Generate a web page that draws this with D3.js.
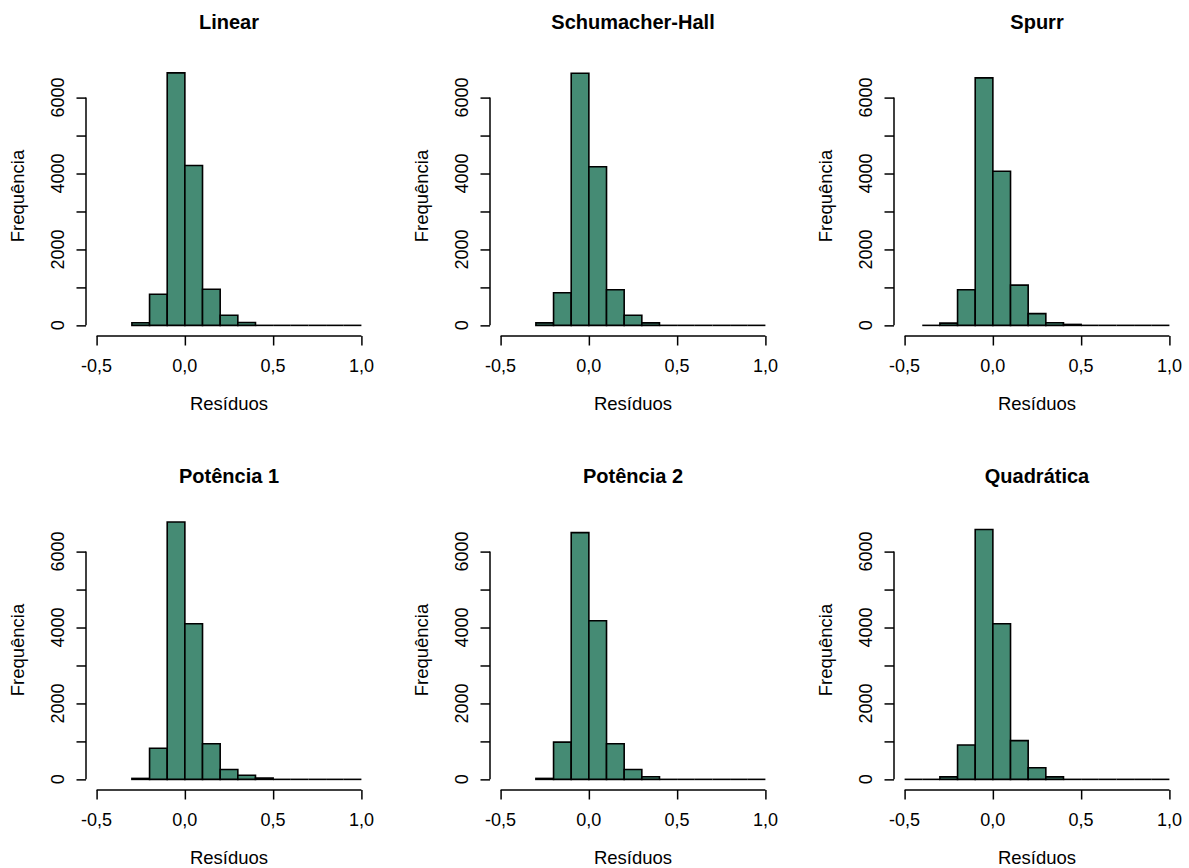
<!DOCTYPE html>
<html>
<head>
<meta charset="utf-8">
<script src="https://cdn.jsdelivr.net/npm/d3@7"></script>
<style>
  html, body { margin: 0; padding: 0; background: #fff; }
  svg { display: block; }
  text { font-family: "Liberation Sans", Arial, sans-serif; fill: #000; }
</style>
</head>
<body>
<svg id="chart" width="1189" height="868"></svg>
<script>
// ---- data ----
const titles = ["Linear", "Schumacher-Hall", "Spurr", "Potência 1", "Potência 2", "Quadrática"];
const binWidth = 0.1;
const binStarts = [-0.3, -0.3, -0.4, -0.3, -0.3, -0.5];

const countsLinear         = [70, 820, 6650, 4210, 950, 265, 75, 0, 0, 0, 0, 0, 0];
const countsSchumacherHall = [65, 860, 6640, 4180, 940, 265, 65, 0, 0, 0, 0, 0, 0];
const countsSpurr          = [0, 60, 940, 6520, 4060, 1060, 310, 70, 25, 0, 0, 0, 0, 0];
const countsPotencia1      = [25, 820, 6780, 4100, 940, 260, 110, 35, 0, 0, 0, 0, 0];
const countsPotencia2      = [25, 980, 6500, 4180, 940, 260, 70, 0, 0, 0, 0, 0, 0];
const countsQuadratica     = [0, 0, 65, 905, 6580, 4100, 1020, 305, 65, 0, 0, 0, 0, 0, 0];
const allCounts = [countsLinear, countsSchumacherHall, countsSpurr, countsPotencia1, countsPotencia2, countsQuadratica];

const xTicks = [-0.5, 0, 0.5, 1.0];
const xTickLabels = ["-0,5", "0,0", "0,5", "1,0"];
const yTicks = [0, 1000, 2000, 3000, 4000, 5000, 6000];
const yLabelTicks = [0, 2000, 4000, 6000];
const yTickLabels = ["0", "2000", "4000", "6000"];
const xLim = [-0.5, 1.0];
const yLim = [0, 7000];
const xLabel = "Resíduos";
const yLabel = "Frequência";

// ---- layout ----
const colOffset = 404, rowOffset = 454;
const plotLeft0 = 86, plotW = 286, plotBottom0 = 336, plotH = 287;
const fillColor = "#458B74";
const tickLen = 9.5;
const fs = 18;

const svg = d3.select("#chart");

titles.forEach((title, i) => {
  const col = i % 3, row = Math.floor(i / 3);
  const left = plotLeft0 + col * colOffset;
  const bottom = plotBottom0 + row * rowOffset;
  const top = bottom - plotH;
  const xs = xLim[1] - xLim[0], ys = yLim[1] - yLim[0];
  const x = d3.scaleLinear().domain([xLim[0] - 0.04 * xs, xLim[1] + 0.04 * xs]).range([left, left + plotW]);
  const y = d3.scaleLinear().domain([yLim[0] - 0.04 * ys, yLim[1] + 0.04 * ys]).range([bottom, top]);

  const g = svg.append("g");
  const counts = allCounts[i];
  const bins = counts.map((c, j) => {
    const x0 = Math.round((binStarts[i] + j * binWidth) * 10) / 10;
    return { x0: x0, x1: Math.round((x0 + binWidth) * 10) / 10, c: c };
  });

  g.selectAll("path.bar").data(bins).enter().append("path")
    .attr("class", "bar")
    .attr("d", d => d.c > 0
      ? `M${x(d.x0)},${y(0)}V${y(d.c)}H${x(d.x1)}V${y(0)}Z`
      : `M${x(d.x0)},${y(0)}H${x(d.x1)}`)
    .attr("fill", d => d.c > 0 ? fillColor : "none")
    .attr("stroke", "#000")
    .attr("stroke-width", 1.6)
    .attr("stroke-linejoin", "miter");

  // x axis
  const xa = g.append("g").attr("transform", `translate(0,${bottom})`)
    .call(d3.axisBottom(x).tickValues(xTicks).tickSize(tickLen).tickFormat(""));
  xa.select(".domain").remove();
  xa.selectAll(".tick line").attr("stroke", "#000").attr("stroke-width", 1.5);
  xa.append("line")
    .attr("x1", x(xTicks[0])).attr("x2", x(xTicks[xTicks.length - 1]))
    .attr("y1", 0).attr("y2", 0)
    .attr("stroke", "#000").attr("stroke-width", 1.5);
  g.selectAll("text.xt").data(xTicks).enter().append("text")
    .attr("class", "xt")
    .attr("x", d => x(d))
    .attr("y", bottom + 35.5)
    .attr("text-anchor", "middle")
    .style("font-size", fs + "px")
    .text((d, k) => xTickLabels[k]);

  // y axis
  const ya = g.append("g").attr("transform", `translate(${left},0)`)
    .call(d3.axisLeft(y).tickValues(yTicks).tickSize(tickLen).tickFormat(""));
  ya.select(".domain").remove();
  ya.selectAll(".tick line").attr("stroke", "#000").attr("stroke-width", 1.5);
  ya.append("line")
    .attr("x1", 0).attr("x2", 0)
    .attr("y1", y(yTicks[0])).attr("y2", y(yTicks[yTicks.length - 1]))
    .attr("stroke", "#000").attr("stroke-width", 1.5);
  g.selectAll("text.yt").data(yLabelTicks).enter().append("text")
    .attr("class", "yt")
    .attr("transform", d => `translate(${left - 22.5},${y(d)}) rotate(-90)`)
    .attr("text-anchor", "middle")
    .style("font-size", fs + "px")
    .text((d, k) => yTickLabels[k]);

  // title
  g.append("text")
    .attr("x", left + plotW / 2)
    .attr("y", 28.5 + row * rowOffset)
    .attr("text-anchor", "middle")
    .style("font-size", "20px")
    .style("font-weight", "bold")
    .text(title);

  // axis labels
  g.append("text")
    .attr("x", left + plotW / 2)
    .attr("y", bottom + 74)
    .attr("text-anchor", "middle")
    .style("font-size", "18.5px")
    .text(xLabel);
  g.append("text")
    .attr("transform", `translate(${left - 62},${196 + row * rowOffset}) rotate(-90)`)
    .attr("text-anchor", "middle")
    .style("font-size", "18.5px")
    .text(yLabel);
});
</script>
</body>
</html>
